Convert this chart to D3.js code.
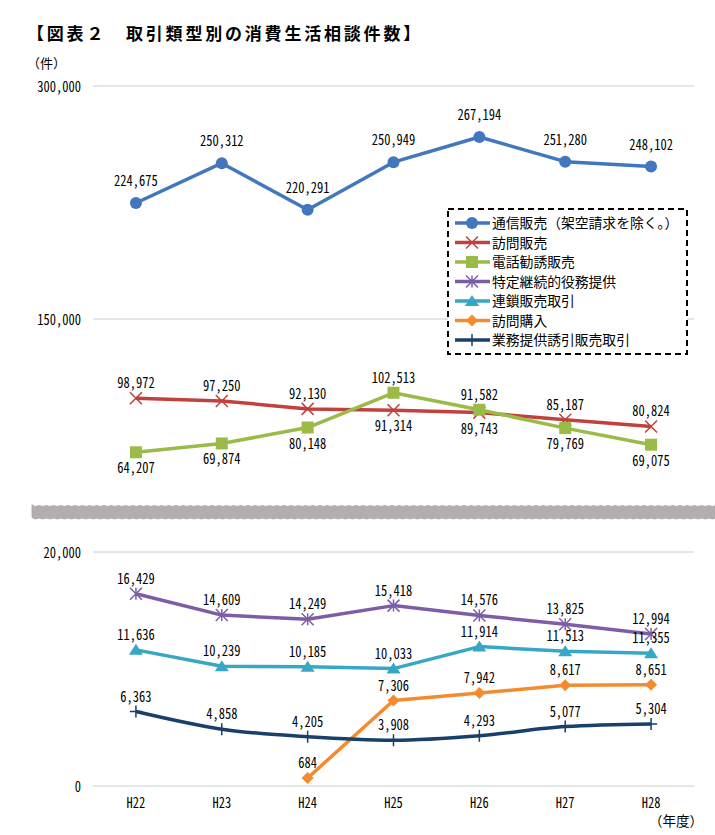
<!DOCTYPE html>
<html>
<head>
<meta charset="utf-8">
<script src="https://cdn.jsdelivr.net/npm/d3@7"></script>
<style>
  body { margin: 0; background: #fff; }
  svg { display: block; }
  .num { font-family: "Noto Sans CJK JP", sans-serif; font-size: 14.5px; font-feature-settings: "hwid" 1; fill: #000; }
  .jp { font-family: "Noto Sans CJK JP", sans-serif; fill: #000; }
</style>
</head>
<body>
<svg id="chart" width="715" height="835"></svg>
<script>
// 年度
const years = ["H22", "H23", "H24", "H25", "H26", "H27", "H28"];

// 上段 (150,000〜300,000)
const tsushin = [224675, 250312, 220291, 250949, 267194, 251280, 248102];
const homon = [98972, 97250, 92130, 91314, 89743, 85187, 80824];
const denwa = [64207, 69874, 80148, 102513, 91582, 79769, 69075];

// 下段 (0〜20,000)
const tokutei = [16429, 14609, 14249, 15418, 14576, 13825, 12994];
const rensa = [11636, 10239, 10185, 10033, 11914, 11513, 11355];
const homonKonyu = [null, null, 684, 7306, 7942, 8617, 8651];
const gyomu = [6363, 4858, 4205, 3908, 4293, 5077, 5304];

const topTicks = [300000, 150000];
const botTicks = [20000, 0];

// series setup (labels: 1 = above, -1 = below)
const series = [
  { name: "通信販売（架空請求を除く。）", values: tsushin, panel: "top", color: "#4377bd", marker: "circle",
    side: [1, 1, 1, 1, 1, 1, 1] },
  { name: "訪問販売", values: homon, panel: "top", color: "#c0413d", marker: "x",
    side: [1, 1, 1, -1, -1, 1, 1] },
  { name: "電話勧誘販売", values: denwa, panel: "top", color: "#9bbb49", marker: "square",
    side: [-1, -1, -1, 1, 1, -1, -1] },
  { name: "特定継続的役務提供", values: tokutei, panel: "bot", color: "#7d5ea6", marker: "star",
    side: [1, 1, 1, 1, 1, 1, 1] },
  { name: "連鎖販売取引", values: rensa, panel: "bot", color: "#36a7c4", marker: "triangle",
    side: [1, 1, 1, 1, 1, 1, 1] },
  { name: "訪問購入", values: homonKonyu, panel: "bot", color: "#f48b2f", marker: "diamond",
    side: [1, 1, 1, 1, 1, 1, 1] },
  { name: "業務提供誘引販売取引", values: gyomu, panel: "bot", color: "#193f6b", marker: "plus",
    side: [1, 1, 1, 1, 1, 1, 1], smooth: true }
];

const svg = d3.select("#chart");

const x = d3.scaleBand().domain(years).range([93, 694]);
const cx = (d) => x(d) + x.bandwidth() / 2;

const yTop = d3.scaleLinear().domain([150000, 300000]).range([319, 86]);
const yBot = d3.scaleLinear().domain([0, 20000]).range([786, 552]);

const fmt = d3.format(",");

// narrow number text (half-width gothic digits, squeezed a little)
const numText = (sel, px, py, anchor, str) =>
  sel.append("text")
    .attr("class", "num")
    .attr("transform", `translate(${px},${py}) scale(0.86,1)`)
    .attr("text-anchor", anchor)
    .text(str);

// title
svg.append("text")
  .attr("class", "jp")
  .attr("x", 27)
  .attr("y", 40)
  .attr("font-size", 17)
  .attr("font-weight", "bold")
  .attr("letter-spacing", 2.8)
  .text("【図表２　取引類型別の消費生活相談件数】");

svg.append("text")
  .attr("class", "jp")
  .attr("x", 27)
  .attr("y", 68)
  .attr("font-size", 13)
  .text("（件）");

// grid lines + tick labels
const drawGrid = (scale, ticks) => {
  ticks.forEach((t) => {
    svg.append("line")
      .attr("x1", x.range()[0]).attr("x2", x.range()[1])
      .attr("y1", scale(t)).attr("y2", scale(t))
      .attr("stroke", "#c8cfc8")
      .attr("stroke-width", 1);
    numText(svg, 81, scale(t) + 5.5, "end", fmt(t));
  });
};
drawGrid(yTop, topTicks);
drawGrid(yBot, botTicks);

// axis break band (scalloped edges)
const waveTop = d3.range(32, 720, 3.6).map((px, i) => [px, 506 + (i % 2 ? 1.3 : -1.3)]);
const waveBot = d3.range(32, 720, 3.6).map((px, i) => [px, 518.5 + (i % 2 ? 1.3 : -1.3)]).reverse();
svg.append("path")
  .attr("d", d3.line().curve(d3.curveBasis)(waveTop) + "L" + d3.line().curve(d3.curveBasis)(waveBot).slice(1) + "Z")
  .attr("fill", "#b1adb1")
  .attr("stroke", "#a6a2a6")
  .attr("stroke-width", 0.8);

// x labels
years.forEach((yr) => numText(svg, cx(yr), 808, "middle", yr));

svg.append("text")
  .attr("class", "jp")
  .attr("x", 703)
  .attr("y", 826)
  .attr("text-anchor", "end")
  .attr("font-size", 13.5)
  .text("（年度）");

// markers
const drawMarker = (g, type, color, px, py) => {
  const s = 6;
  if (type === "circle") {
    g.append("circle").attr("cx", px).attr("cy", py).attr("r", s).attr("fill", color);
  } else if (type === "square") {
    g.append("rect").attr("x", px - s).attr("y", py - s).attr("width", 2 * s).attr("height", 2 * s).attr("fill", color);
  } else if (type === "triangle") {
    g.append("path").attr("d", `M${px},${py - s}L${px + s + 1},${py + s - 1}L${px - s - 1},${py + s - 1}Z`).attr("fill", color);
  } else if (type === "diamond") {
    g.append("path").attr("d", `M${px},${py - s}L${px + s},${py}L${px},${py + s}L${px - s},${py}Z`).attr("fill", color);
  } else if (type === "x") {
    g.append("path").attr("d", `M${px - s},${py - s}L${px + s},${py + s}M${px - s},${py + s}L${px + s},${py - s}`)
      .attr("stroke", color).attr("stroke-width", 1.5);
  } else if (type === "star") {
    g.append("path").attr("d", `M${px - s},${py - s}L${px + s},${py + s}M${px - s},${py + s}L${px + s},${py - s}M${px},${py - s}L${px},${py + s}`)
      .attr("stroke", color).attr("stroke-width", 1.5);
  } else if (type === "plus") {
    g.append("path").attr("d", `M${px},${py - s}L${px},${py + s}M${px - s},${py}L${px + s},${py}`)
      .attr("stroke", color).attr("stroke-width", 1.5);
  }
};

// series lines, markers, labels
series.forEach((s) => {
  const yScale = s.panel === "top" ? yTop : yBot;
  const pts = years.map((yr, i) => ({ yr, v: s.values[i], side: s.side[i] })).filter((d) => d.v !== null);
  const g = svg.append("g");

  g.append("path")
    .datum(pts)
    .attr("fill", "none")
    .attr("stroke", s.color)
    .attr("stroke-width", 3.5)
    .attr("stroke-linejoin", "round")
    .attr("d", d3.line()
      .curve(s.smooth ? d3.curveMonotoneX : d3.curveLinear)
      .x((d) => cx(d.yr))
      .y((d) => yScale(d.v)));

  pts.forEach((d) => drawMarker(g, s.marker, s.color, cx(d.yr), yScale(d.v)));

  const off = s.panel === "top" && s.marker === "circle" ? 17 : 10;
  pts.forEach((d) => {
    numText(g, cx(d.yr), yScale(d.v) + (d.side > 0 ? -off : 21), "middle", fmt(d.v));
  });
});

// legend
const legend = svg.append("g");
legend.append("rect")
  .attr("x", 448).attr("y", 209)
  .attr("width", 239).attr("height", 145)
  .attr("fill", "#fff")
  .attr("stroke", "#000")
  .attr("stroke-width", 2)
  .attr("stroke-dasharray", "6,4");

series.forEach((s, i) => {
  const ly = 223 + i * 19.5;
  legend.append("line")
    .attr("x1", 455).attr("x2", 490)
    .attr("y1", ly).attr("y2", ly)
    .attr("stroke", s.color)
    .attr("stroke-width", 3.5);
  drawMarker(legend, s.marker, s.color, 472, ly);
  legend.append("text")
    .attr("class", "jp")
    .attr("x", 492)
    .attr("y", ly + 5)
    .attr("font-size", 13.8)
    .text(s.name);
});
</script>
</body>
</html>
